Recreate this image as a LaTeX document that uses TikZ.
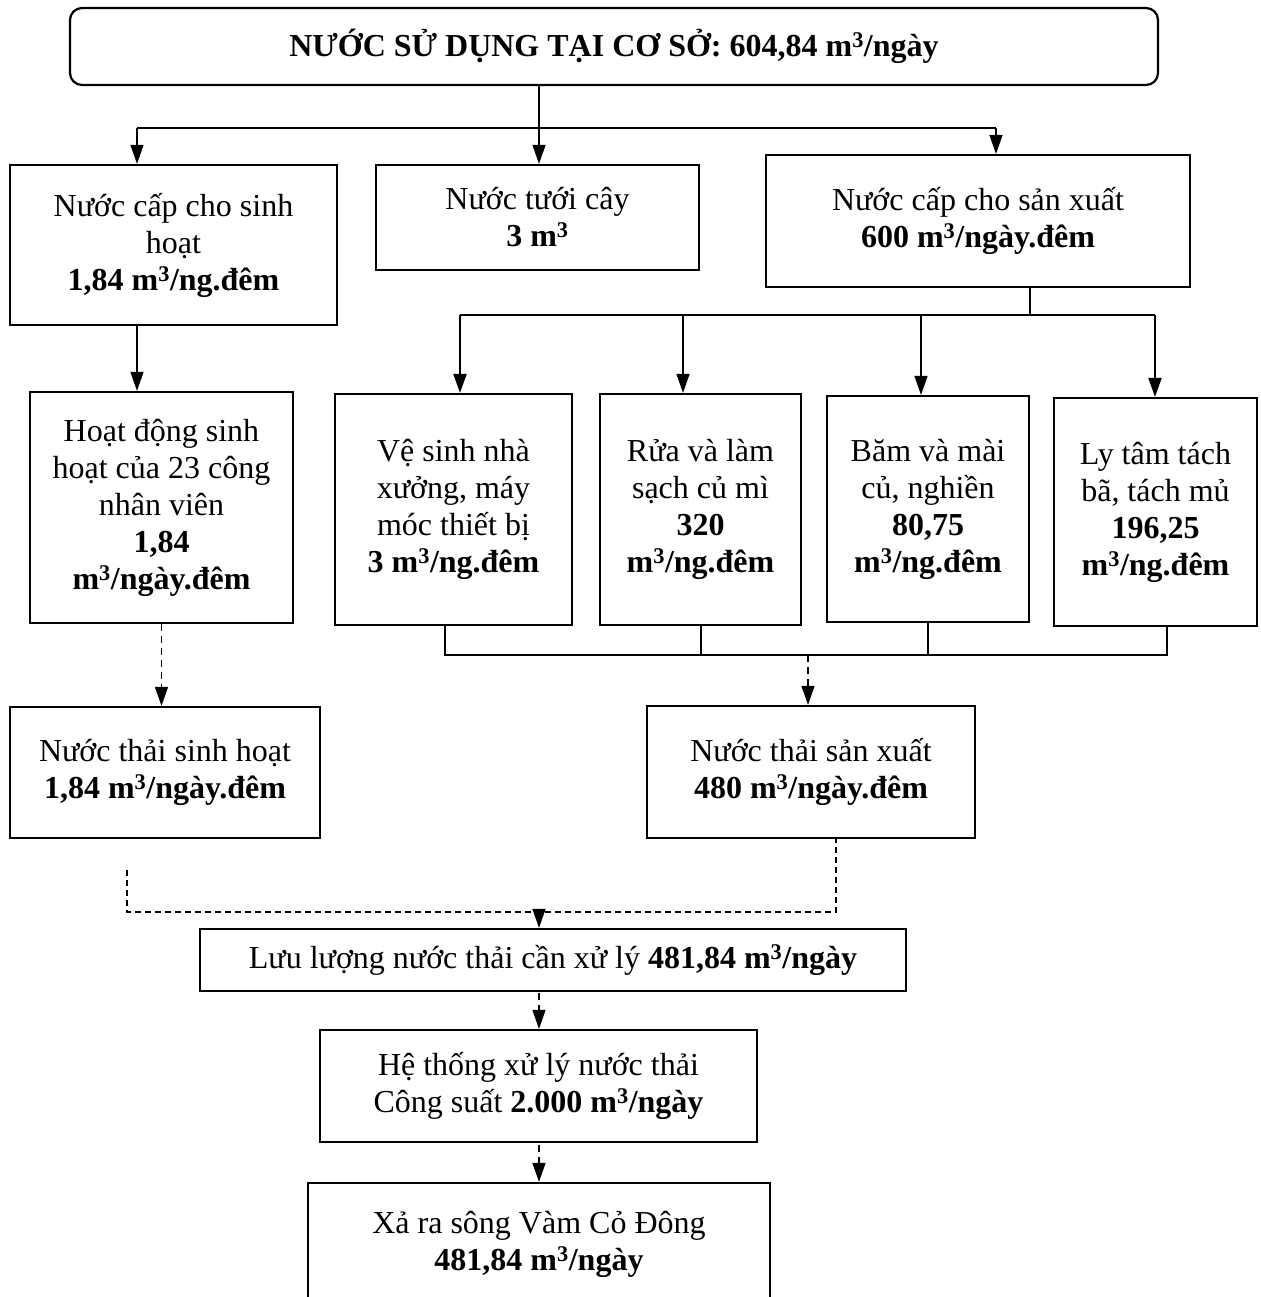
\documentclass[tikz,border=0pt]{standalone}
\usepackage{fontspec}
\setmainfont{Liberation Serif}
\usetikzlibrary{arrows.meta}
\begin{document}
\begin{tikzpicture}[x=1pt,y=-1pt,
 box/.style={draw,line width=2.2pt,align=center,inner sep=0pt,font=\fontsize{32}{37}\selectfont},
 conn/.style={line width=1.3pt},
 thick conn/.style={line width=2.4pt},
 arr/.style={conn,-{Triangle[length=19pt,width=13pt]}},
 darr/.style={arr,dash pattern=on 7pt off 5pt},
 dline/.style={conn,dash pattern=on 6pt off 4pt}]
\useasboundingbox (0,0) rectangle (1260,1297);

\node[box,rounded corners=12pt,minimum width=1088pt,minimum height=77pt] (top) at (614,46.5)
 {\textbf{NƯỚC SỬ DỤNG TẠI CƠ SỞ: 604,84 m\textsuperscript{3}/ngày}};

\node[box,minimum width=327pt,minimum height=160pt] (b1) at (173.5,245)
 {Nước cấp cho sinh\\hoạt\\\textbf{1,84 m\textsuperscript{3}/ng.đêm}};
\node[box,minimum width=323pt,minimum height=105pt] (b2) at (537.5,217.5)
 {Nước tưới cây\\\textbf{3 m\textsuperscript{3}}};
\node[box,minimum width=424pt,minimum height=132pt] (b3) at (978,221)
 {Nước cấp cho sản xuất\\\textbf{600 m\textsuperscript{3}/ngày.đêm}};

\node[box,minimum width=263pt,minimum height=231pt] (h1) at (161.5,507.5)
 {Hoạt động sinh\\hoạt của 23 công\\nhân viên\\\textbf{1,84}\\\textbf{m\textsuperscript{3}/ngày.đêm}};
\node[box,minimum width=237pt,minimum height=231pt] (p1) at (453.5,509.5)
 {Vệ sinh nhà\\xưởng, máy\\móc thiết bị\\\textbf{3 m\textsuperscript{3}/ng.đêm}};
\node[box,minimum width=201pt,minimum height=231pt] (p2) at (700.5,509.5)
 {Rửa và làm\\sạch củ mì\\\textbf{320}\\\textbf{m\textsuperscript{3}/ng.đêm}};
\node[box,minimum width=202pt,minimum height=226pt] (p3) at (928,509)
 {Băm và mài\\củ, nghiền\\\textbf{80,75}\\\textbf{m\textsuperscript{3}/ng.đêm}};
\node[box,minimum width=203pt,minimum height=228pt] (p4) at (1155.5,512)
 {Ly tâm tách\\bã, tách mủ\\\textbf{196,25}\\\textbf{m\textsuperscript{3}/ng.đêm}};

\node[box,minimum width=310pt,minimum height=131pt] (w1) at (165,772.5)
 {Nước thải sinh hoạt\\\textbf{1,84 m\textsuperscript{3}/ngày.đêm}};
\node[box,minimum width=328pt,minimum height=132pt] (w2) at (811,772)
 {Nước thải sản xuất\\\textbf{480 m\textsuperscript{3}/ngày.đêm}};

\node[box,minimum width=706pt,minimum height=62pt] (ll) at (553,960)
 {Lưu lượng nước thải cần xử lý \textbf{481,84 m\textsuperscript{3}/ngày}};
\node[box,minimum width=437pt,minimum height=112pt] (ht) at (538.5,1086)
 {Hệ thống xử lý nước thải\\Công suất \textbf{2.000 m\textsuperscript{3}/ngày}};
\node[box,minimum width=462pt,minimum height=122pt] (xr) at (539,1244)
 {Xả ra sông Vàm Cỏ Đông\\\textbf{481,84 m\textsuperscript{3}/ngày}};

% top distribution
\coordinate (t0) at (539,128);
\coordinate (tl) at (137,128);
\coordinate (tr) at (996,128);
\draw[conn] (tl) -- (tr);
\draw[arr] (top.south -| t0) -- (t0 |- b2.north);
\draw[arr] (tl) -- (tl |- b1.north);
\draw[arr] (tr) -- (tr |- b3.north);

% domestic branch
\coordinate (a1) at (137,0);
\draw[arr] (b1.south -| a1) -- (h1.north -| a1);
\draw[darr] (h1.south) -- (h1.south |- w1.north);

% production distribution
\coordinate (s0) at (1030,315);
\coordinate (sl) at (460,315);
\coordinate (sr) at (1155,315);
\coordinate (s2) at (683,315);
\coordinate (s3) at (921,315);
\draw[conn] (b3.south -| s0) -- (s0);
\draw[thick conn] (sl) -- (sr);
\draw[arr,line width=2.2pt] (sl) -- (sl |- p1.north);
\draw[arr] (s2) -- (s2 |- p2.north);
\draw[arr] (s3) -- (s3 |- p3.north);
\draw[arr,line width=2.2pt] (sr) -- (sr |- p4.north);

% production collection
\coordinate (c1) at (445,655);
\coordinate (c2) at (701,655);
\coordinate (c3) at (928,655);
\coordinate (c4) at (1167,655);
\coordinate (cm) at (808,655);
\draw[thick conn] (p1.south -| c1) -- (c1) -- (c4) -- (p4.south -| c4);
\draw[thick conn] (p2.south -| c2) -- (c2);
\draw[thick conn] (p3.south -| c3) -- (c3);
\draw[darr] (cm) -- (cm |- w2.north);

% wastewater merge
\coordinate (m1s) at (127,870);
\coordinate (m1) at (127,912);
\coordinate (m2) at (836,912);
\coordinate (mm) at (539,912);
\draw[dline] (m1s) -- (m1) -- (m2) -- (w2.south -| m2);
\draw[darr] (mm) -- (mm |- ll.north);

% treatment chain
\coordinate (d1) at (539,993);
\coordinate (d2) at (539,1145);
\draw[darr] (d1) -- (d1 |- ht.north);
\draw[darr] (d2) -- (d2 |- xr.north);
\end{tikzpicture}
\end{document}
